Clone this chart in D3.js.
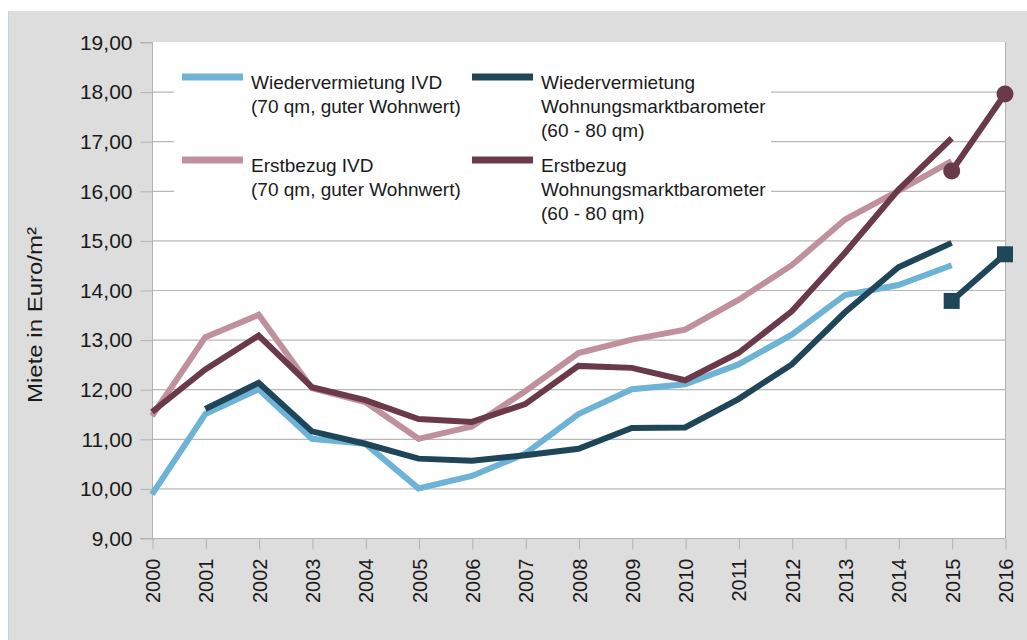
<!DOCTYPE html>
<html>
<head>
<meta charset="utf-8">
<style>
    body { margin: 0; background: #ffffff; }
    svg text { font-family: "Liberation Sans", Arial, sans-serif; fill: #1a1a1a; }
</style>
</head>
<body>
<div id="chart"></div>
<script src="https://d3js.org/d3.v7.min.js"></script>
<script>
    // Mietentwicklung, Euro pro m²
    var years = [2000, 2001, 2002, 2003, 2004, 2005, 2006, 2007, 2008, 2009, 2010, 2011, 2012, 2013, 2014, 2015];

    var wiederIVD = [9.88, 11.5, 12.0, 11.0, 10.9, 10.0, 10.25, 10.7, 11.5, 12.0, 12.1, 12.5, 13.1, 13.9, 14.1, 14.5];
    var wiederWMB = [null, 11.6, 12.13, 11.15, 10.9, 10.6, 10.56, 10.67, 10.8, 11.22, 11.23, 11.8, 12.5, 13.55, 14.46, 14.95];
    var erstIVD = [11.46, 13.05, 13.5, 12.02, 11.74, 11.0, 11.25, 11.96, 12.73, 13.0, 13.2, 13.8, 14.5, 15.42, 16.0, 16.6];
    var erstWMB = [11.54, 12.4, 13.08, 12.04, 11.78, 11.4, 11.34, 11.7, 12.47, 12.43, 12.18, 12.73, 13.57, 14.75, 16.02, 17.06];

    // neue Erhebung 2015/2016 (mit Markern)
    var newYears = [2015, 2016];
    var wiederNew = [13.78, 14.72];
    var erstNew = [16.4, 17.95];

    var yTicks = [9, 10, 11, 12, 13, 14, 15, 16, 17, 18, 19];
    var xTicks = [2000, 2001, 2002, 2003, 2004, 2005, 2006, 2007, 2008, 2009, 2010, 2011, 2012, 2013, 2014, 2015, 2016];

    var legendLeft = [
        { color: "#6cb3d5", lines: ["Wiedervermietung IVD", "(70 qm, guter Wohnwert)"] },
        { color: "#c0919c", lines: ["Erstbezug IVD", "(70 qm, guter Wohnwert)"] }
    ];
    var legendRight = [
        { color: "#1e4658", lines: ["Wiedervermietung", "Wohnungsmarktbarometer", "(60 - 80 qm)"] },
        { color: "#6a3a4a", lines: ["Erstbezug", "Wohnungsmarktbarometer", "(60 - 80 qm)"] }
    ];

    var width = 1027, height = 640;
    var svg = d3.select("#chart").append("svg")
        .attr("width", width)
        .attr("height", height);

    // grey frame
    svg.append("rect")
        .attr("x", 8).attr("y", 11)
        .attr("width", width - 8).attr("height", height - 11)
        .attr("fill", "#dddddd");
    svg.append("line")
        .attr("x1", 8.5).attr("x2", 8.5)
        .attr("y1", 11).attr("y2", height)
        .attr("stroke", "#bcd3ea");

    var x = d3.scaleLinear().domain([2000, 2016]).range([152, 1005]);
    var y = d3.scaleLinear().domain([9, 19]).range([538, 42]);

    // plot area
    svg.append("rect")
        .attr("x", x(2000)).attr("y", y(19))
        .attr("width", x(2016) - x(2000)).attr("height", y(9) - y(19))
        .attr("fill", "#ffffff");

    // gridlines
    svg.append("g")
        .selectAll("line")
        .data(yTicks.filter(function(d) { return d > 9 && d < 19; }))
        .enter().append("line")
        .attr("x1", x(2000)).attr("x2", x(2016))
        .attr("y1", function(d) { return y(d) + 0.5; })
        .attr("y2", function(d) { return y(d) + 0.5; })
        .attr("stroke", "#b8b8b8")
        .attr("stroke-width", 1.2);

    // y axis
    var yAxis = d3.axisLeft(y)
        .tickValues(yTicks)
        .tickSize(12)
        .tickPadding(8)
        .tickFormat(function(d) { return d3.format(".2f")(d).replace(".", ","); });

    var gy = svg.append("g")
        .attr("transform", "translate(" + (x(2000) + 0.5) + ",0.5)")
        .call(yAxis);
    gy.select(".domain").attr("stroke", "#b3b3b3").attr("d", "M-12," + y(19) + "H0V" + y(9) + "H-12");
    gy.selectAll(".tick line").attr("stroke", "#b3b3b3");
    gy.selectAll(".tick text")
        .style("font-size", "21px")
        .style("font-family", "'Liberation Sans', Arial, sans-serif")
        .attr("fill", "#1a1a1a");

    // x axis
    var xAxis = d3.axisBottom(x)
        .tickValues(xTicks)
        .tickSize(11)
        .tickFormat(d3.format("d"));

    var gx = svg.append("g")
        .attr("transform", "translate(0.5," + (y(9) + 0.5) + ")")
        .call(xAxis);
    gx.select(".domain").attr("stroke", "#b3b3b3").attr("d", "M" + x(2000) + ",0H" + x(2016));
    gx.selectAll(".tick line").attr("stroke", "#b3b3b3");
    gx.selectAll(".tick text")
        .style("font-size", "20px")
        .style("font-family", "'Liberation Sans', Arial, sans-serif")
        .attr("fill", "#1a1a1a")
        .attr("text-anchor", "end")
        .attr("transform", "rotate(-90)")
        .attr("x", -20)
        .attr("y", 0)
        .attr("dy", "0.35em");

    // right border of plot
    svg.append("line")
        .attr("x1", x(2016) + 0.5).attr("x2", x(2016) + 0.5)
        .attr("y1", y(19)).attr("y2", y(9))
        .attr("stroke", "#b3b3b3");

    // y title
    svg.append("text")
        .attr("transform", "translate(42,315) rotate(-90)")
        .attr("text-anchor", "middle")
        .attr("textLength", 176)
        .attr("lengthAdjust", "spacingAndGlyphs")
        .style("font-size", "20px")
        .text("Miete in Euro/m²");

    // legend box (covers gridlines)
    svg.append("rect")
        .attr("x", 174).attr("y", 56)
        .attr("width", 597).attr("height", 172)
        .attr("fill", "#ffffff");

    function drawLegend(items, sx, tx, rowY) {
        items.forEach(function(item, i) {
            var top = rowY[i];
            svg.append("line")
                .attr("x1", sx).attr("x2", sx + 61)
                .attr("y1", top).attr("y2", top)
                .attr("stroke", item.color)
                .attr("stroke-width", 7);
            var t = svg.append("text")
                .attr("x", tx)
                .attr("y", top + 12)
                .style("font-size", "19px");
            item.lines.forEach(function(l, j) {
                t.append("tspan")
                    .attr("x", tx)
                    .attr("dy", j === 0 ? 0 : 24)
                    .text(l);
            });
        });
    }
    drawLegend(legendLeft, 182, 251, [77, 160]);
    drawLegend(legendRight, 472, 541, [77, 160]);

    // lines
    var line = d3.line()
        .defined(function(d) { return d[1] !== null; })
        .x(function(d) { return x(d[0]); })
        .y(function(d) { return y(d[1]); });

    function zip(xs, vs) {
        return xs.map(function(yr, i) { return [yr, vs[i]]; });
    }

    var series = [
        { values: wiederIVD, color: "#6cb3d5" },
        { values: erstIVD, color: "#c0919c" },
        { values: wiederWMB, color: "#1e4658" },
        { values: erstWMB, color: "#6a3a4a" }
    ];

    svg.append("g")
        .selectAll("path")
        .data(series)
        .enter().append("path")
        .attr("d", function(d) { return line(zip(years, d.values)); })
        .attr("fill", "none")
        .attr("stroke", function(d) { return d.color; })
        .attr("stroke-width", 6)
        .attr("stroke-linejoin", "miter");

    // new survey segments with markers
    svg.append("path")
        .attr("d", line(zip(newYears, wiederNew)))
        .attr("fill", "none")
        .attr("stroke", "#1e4658")
        .attr("stroke-width", 6);
    svg.append("g")
        .selectAll("rect")
        .data(zip(newYears, wiederNew))
        .enter().append("rect")
        .attr("x", function(d) { return x(d[0]) - 8; })
        .attr("y", function(d) { return y(d[1]) - 8; })
        .attr("width", 16).attr("height", 16)
        .attr("fill", "#1e4658");

    svg.append("path")
        .attr("d", line(zip(newYears, erstNew)))
        .attr("fill", "none")
        .attr("stroke", "#6a3a4a")
        .attr("stroke-width", 6);
    svg.append("g")
        .selectAll("circle")
        .data(zip(newYears, erstNew))
        .enter().append("circle")
        .attr("cx", function(d) { return x(d[0]); })
        .attr("cy", function(d) { return y(d[1]); })
        .attr("r", 8.5)
        .attr("fill", "#6a3a4a");
</script>
</body>
</html>
